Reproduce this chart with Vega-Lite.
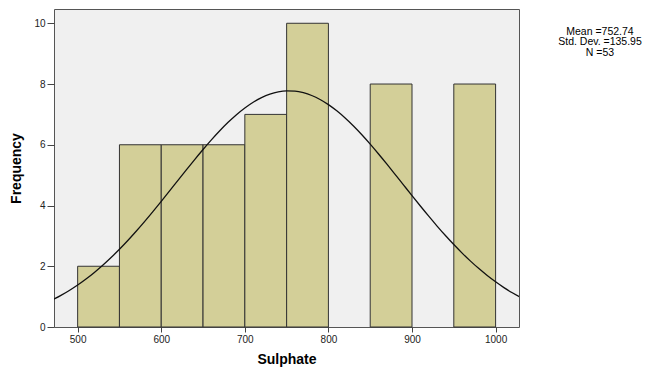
{
  "$schema": "https://vega.github.io/schema/vega-lite/v6.json",
  "autosize": "none",
  "width": 465,
  "height": 318,
  "padding": {"left": 54, "top": 9, "right": 130, "bottom": 44},
  "background": "white",
  "title": {
    "text": ["Mean =752.74", "Std. Dev. =135.95", "N =53"],
    "anchor": "end",
    "orient": "top",
    "frame": "group",
    "align": "center",
    "baseline": "top",
    "offset": 0,
    "dx": 81,
    "dy": 49,
    "fontSize": 10.5,
    "fontWeight": "normal",
    "font": "Liberation Sans",
    "color": "#000000",
    "lineHeight": 10.5
  },
  "config": {
    "view": {"fill": "#f0f0f0", "stroke": "#555555", "strokeWidth": 1},
    "font": "Liberation Sans",
    "axis": {
      "domain": false,
      "grid": false,
      "tickColor": "#444444",
      "labelColor": "#222222",
      "labelFont": "Liberation Sans",
      "labelFontSize": 10,
      "titleFont": "Liberation Sans",
      "titleFontWeight": "bold",
      "titleFontSize": 14,
      "titleColor": "#000000"
    }
  },
  "datasets": {
    "bins": [
      {"start": 500, "end": 550, "count": 2},
      {"start": 550, "end": 600, "count": 6},
      {"start": 600, "end": 650, "count": 6},
      {"start": 650, "end": 700, "count": 6},
      {"start": 700, "end": 750, "count": 7},
      {"start": 750, "end": 800, "count": 10},
      {"start": 850, "end": 900, "count": 8},
      {"start": 950, "end": 1000, "count": 8}
    ],
    "curve": [
      {"x": 470, "f": 0.8945}, {"x": 480, "f": 1.0395}, {"x": 490, "f": 1.2014},
      {"x": 500, "f": 1.3812}, {"x": 510, "f": 1.5794}, {"x": 520, "f": 1.7962},
      {"x": 530, "f": 2.0319}, {"x": 540, "f": 2.2858}, {"x": 550, "f": 2.5577},
      {"x": 560, "f": 2.8464}, {"x": 570, "f": 3.151}, {"x": 580, "f": 3.4689},
      {"x": 590, "f": 3.7984}, {"x": 600, "f": 4.1368}, {"x": 610, "f": 4.4811},
      {"x": 620, "f": 4.8278}, {"x": 630, "f": 5.1732}, {"x": 640, "f": 5.5136},
      {"x": 650, "f": 5.8446}, {"x": 660, "f": 6.162}, {"x": 670, "f": 6.4616},
      {"x": 680, "f": 6.7392}, {"x": 690, "f": 6.9908}, {"x": 700, "f": 7.2127},
      {"x": 710, "f": 7.4014}, {"x": 720, "f": 7.5542}, {"x": 730, "f": 7.6684},
      {"x": 740, "f": 7.7423}, {"x": 750, "f": 7.7748}, {"x": 760, "f": 7.7653},
      {"x": 770, "f": 7.714}, {"x": 780, "f": 7.6217}, {"x": 790, "f": 7.4897},
      {"x": 800, "f": 7.3205}, {"x": 810, "f": 7.1163}, {"x": 820, "f": 6.8806},
      {"x": 830, "f": 6.6168}, {"x": 840, "f": 6.3287}, {"x": 850, "f": 6.0206},
      {"x": 860, "f": 5.6965}, {"x": 870, "f": 5.3609}, {"x": 880, "f": 5.0176},
      {"x": 890, "f": 4.671}, {"x": 900, "f": 4.325}, {"x": 910, "f": 3.983},
      {"x": 920, "f": 3.6483}, {"x": 930, "f": 3.3237}, {"x": 940, "f": 3.0114},
      {"x": 950, "f": 2.714}, {"x": 960, "f": 2.4327}, {"x": 970, "f": 2.1687},
      {"x": 980, "f": 1.9229}, {"x": 990, "f": 1.6959}, {"x": 1000, "f": 1.4875},
      {"x": 1010, "f": 1.2977}, {"x": 1020, "f": 1.126}, {"x": 1030, "f": 0.9718}
    ]
  },
  "layer": [
    {
      "data": {"name": "bins"},
      "mark": {"type": "rect", "fill": "#d3cf98", "stroke": "#333333", "strokeWidth": 1},
      "encoding": {
        "x": {
          "field": "start", "type": "quantitative",
          "scale": {"domain": [471.7, 1028], "nice": false, "zero": false},
          "axis": {"values": [500, 600, 700, 800, 900, 1000], "format": "d", "title": "Sulphate", "tickSize": 5, "labelPadding": 2, "titlePadding": 8}
        },
        "x2": {"field": "end"},
        "y": {
          "field": "count", "type": "quantitative",
          "scale": {"domain": [0, 10.47], "nice": false},
          "axis": {"values": [0, 2, 4, 6, 8, 10], "format": "d", "title": "Frequency", "tickSize": 7, "labelPadding": 2, "titlePadding": 10}
        },
        "y2": {"datum": 0}
      }
    },
    {
      "data": {"name": "curve"},
      "mark": {"type": "line", "color": "#111111", "strokeWidth": 1.3, "clip": true, "interpolate": "monotone"},
      "encoding": {
        "x": {"field": "x", "type": "quantitative"},
        "y": {"field": "f", "type": "quantitative"}
      }
    }
  ]
}
